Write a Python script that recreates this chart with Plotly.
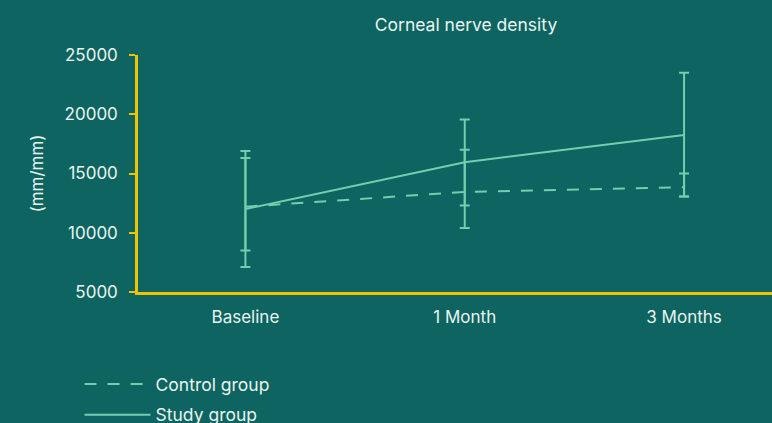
import plotly.graph_objects as go

categories = ["Baseline", "1 Month", "3 Months"]
control_mean = [12200, 13450, 13850]
control_upper = [16300, 17000, 15000]
control_lower = [8500, 10400, 13050]
study_mean = [12000, 15950, 18250]
study_upper = [16900, 19550, 23500]
study_lower = [7100, 12300, 13050]
y_ticks = [5000, 10000, 15000, 20000, 25000]
y_tick_labels = ["5000", "10000", "15000", "20000", "25000"]

BG = "#0d6460"
LINE = "#72cfae"
AXIS = "#f2c200"
TEXT = "#eaf4f1"
FONT = "Inter"

L = 137.5
PW = 772 - L
PH = 237

def err(mean, up, lo):
    return dict(type="data", symmetric=False,
                array=[u - m for u, m in zip(up, mean)],
                arrayminus=[m - l for m, l in zip(mean, lo)],
                color=LINE, thickness=2, width=5)

fig = go.Figure()
fig.add_trace(go.Scatter(
    x=categories, y=control_mean, mode="lines", name="Control group",
    line=dict(color=LINE, width=2, dash="12px,11px"),
    error_y=err(control_mean, control_upper, control_lower),
    legendgroup="c"))
fig.add_trace(go.Scatter(
    x=categories, y=study_mean, mode="lines", name="Study group",
    line=dict(color=LINE, width=2),
    error_y=err(study_mean, study_upper, study_lower),
    legendgroup="s"))

fig.update_layout(
    width=772, height=423,
    paper_bgcolor=BG, plot_bgcolor=BG,
    margin=dict(l=L, r=0, t=55, b=423 - 55 - PH, autoexpand=False),
    font=dict(family=FONT, size=17, color=TEXT),
    title=dict(text="Corneal nerve density", x=466/772, xref="container",
               xanchor="center", y=1 - 25/423, yref="container", yanchor="middle",
               font=dict(size=17.5, color=TEXT, family=FONT)),
    showlegend=True,
    legend=dict(x=(79 - L) / PW, xref="paper", xanchor="left",
                y=-(366 - 292) / PH, yref="paper", yanchor="top",
                bgcolor="rgba(0,0,0,0)", itemwidth=66,
                font=dict(size=17.5, color=TEXT, family=FONT),
                tracegroupgap=5, itemclick=False),
    xaxis=dict(type="category", range=[-(245 - L) / 219.5, (772 - 245) / 219.5],
               showgrid=False, zeroline=False,
               showline=True, linecolor=AXIS, linewidth=2.5, ticks="",
               ticklabelstandoff=8, tickfont=dict(size=17, color=TEXT)),
    yaxis=dict(range=[5000, 25000], tickvals=y_ticks, ticktext=y_tick_labels,
               showgrid=False, zeroline=False,
               showline=True, linecolor=AXIS, linewidth=2.5, ticks="outside",
               tickcolor=AXIS, ticklen=6, tickwidth=2, ticklabelstandoff=8,
               tickfont=dict(size=17, color=TEXT),
               title=dict(text="(mm/mm)", standoff=17, font=dict(size=17, color=TEXT))),
)

fig.write_html("out.html", config={"displayModeBar": False},
               post_script="document.body.style.margin='0';")
